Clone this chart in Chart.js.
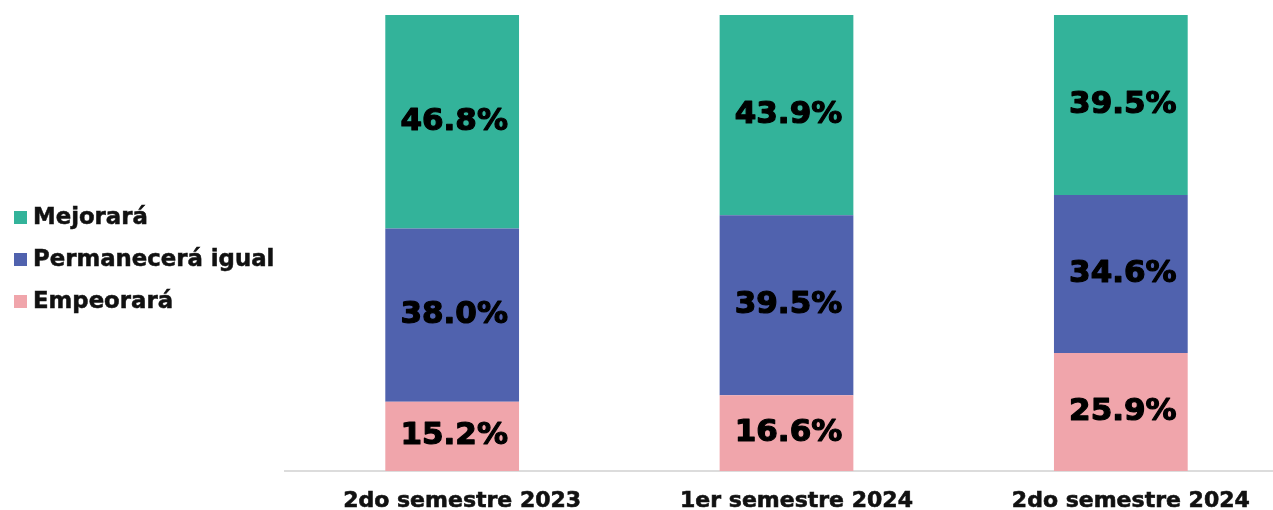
<!DOCTYPE html>
<html>
<head>
<meta charset="utf-8">
<script src="https://cdn.jsdelivr.net/npm/chart.js@4/dist/chart.umd.min.js"></script>
<style>
  html, body { margin: 0; padding: 0; background: #fff; overflow: hidden; }
  #wrap { position: relative; width: 1273px; height: 510px; overflow: hidden; }
  #c { position: absolute; left: 0; top: 0; }
  #legend { position: absolute; left: 14px; top: 203px; margin: 0; padding: 0; list-style: none;
            font-family: "DejaVu Sans", sans-serif; font-weight: bold; font-size: 22.8px; color: #111;
            -webkit-text-stroke: 0.5px #111; }
  #legend li { height: 42px; line-height: 27px; white-space: nowrap; }
  #legend span.sw { display: inline-block; width: 13px; height: 13px; margin-right: 6px; vertical-align: 0px;
                    -webkit-text-stroke: 0; }
</style>
</head>
<body>
<div id="wrap">
  <canvas id="c" width="1288" height="510"></canvas>
  <ul id="legend"></ul>
</div>
<script>
const categories = ["2do semestre 2023", "1er semestre 2024", "2do semestre 2024"];
const seriesNames = ["Empeorará", "Permanecerá igual", "Mejorará"];
const empeorara = [15.2, 16.6, 25.9];
const permanecera = [38.0, 39.5, 34.6];
const mejorara = [46.8, 43.9, 39.5];
const seriesColors = ["#f0a5ab", "#5062ae", "#33b39a"];

const seriesValues = [empeorara, permanecera, mejorara];

// Writes each segment's value in the middle of its bar
const segmentLabels = {
  id: "segmentLabels",
  afterDatasetsDraw(chart) {
    const ctx = chart.ctx;
    ctx.save();
    ctx.font = "bold 31px 'DejaVu Sans', sans-serif";
    ctx.fillStyle = "#000";
    ctx.strokeStyle = "#000";
    ctx.lineWidth = 1.2;
    ctx.lineJoin = "round";
    ctx.textAlign = "center";
    ctx.textBaseline = "middle";
    chart.data.datasets.forEach((ds, i) => {
      const meta = chart.getDatasetMeta(i);
      meta.data.forEach((bar, j) => {
        const p = bar.getCenterPoint();
        const txt = ds.data[j].toFixed(1) + "%";
        ctx.strokeText(txt, p.x + 2, p.y);
        ctx.fillText(txt, p.x + 2, p.y);
      });
    });
    ctx.restore();
  }
};

const chart = new Chart(document.getElementById("c"), {
  type: "bar",
  data: {
    labels: categories,
    datasets: seriesNames.map((name, i) => ({
      label: name,
      data: seriesValues[i],
      backgroundColor: seriesColors[i],
      borderWidth: 0,
      categoryPercentage: 1,
      barPercentage: 0.4
    }))
  },
  options: {
    responsive: false,
    animation: false,
    layout: { padding: { left: 285, top: 15, right: 0, bottom: 0 } },
    plugins: { legend: { display: false }, tooltip: { enabled: false } },
    scales: {
      x: {
        stacked: true,
        afterFit(scale) { scale.height = 39; },
        grid: { display: false, drawTicks: false },
        border: { display: true, color: "#dcdcdc", width: 2 },
        ticks: {
          color: "#111",
          padding: 18,
          labelOffset: 10,
          textStrokeColor: "#111",
          textStrokeWidth: 0.6,
          font: { family: "'DejaVu Sans', sans-serif", weight: "bold", size: 22, lineHeight: 1.1 }
        }
      },
      y: { stacked: true, display: false, min: 0, max: 100 }
    }
  },
  plugins: [segmentLabels]
});

// Legend listed top-down (reverse of stacking order)
const legendEl = document.getElementById("legend");
seriesNames.slice().reverse().forEach((name, k) => {
  const i = seriesNames.length - 1 - k;
  const li = document.createElement("li");
  li.innerHTML = '<span class="sw" style="background:' + seriesColors[i] + '"></span>' + name;
  legendEl.appendChild(li);
});
</script>
</body>
</html>
